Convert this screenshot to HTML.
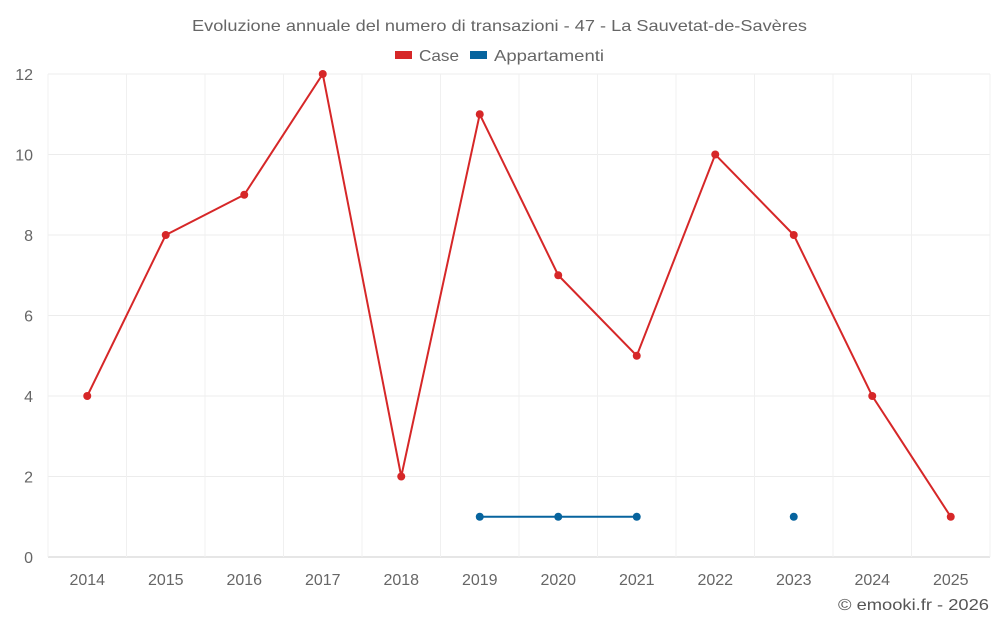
<!DOCTYPE html>
<html><head><meta charset="utf-8"><style>
html,body{margin:0;padding:0;background:#fff;}
svg{display:block;font-family:"Liberation Sans",sans-serif;}
</style></head><body>
<svg id="chart" width="1000" height="625" viewBox="0 0 1000 625">
<text x="192" y="31" textLength="615" lengthAdjust="spacingAndGlyphs" font-size="16" fill="#666">Evoluzione annuale del numero di transazioni - 47 - La Sauvetat-de-Savères</text>
<g>
<g><rect x="395" y="51" width="17" height="8" fill="#d62728"/><text x="419" y="61" textLength="40" lengthAdjust="spacingAndGlyphs" font-size="16" fill="#666">Case</text></g>
<g><rect x="470" y="51" width="17" height="8" fill="#07649e"/><text x="494" y="61" textLength="110" lengthAdjust="spacingAndGlyphs" font-size="16" fill="#666">Appartamenti</text></g>
</g>
<g id="grid"></g>
<g id="axes"></g>
<g id="series"></g>
<text x="838" y="610" textLength="151" lengthAdjust="spacingAndGlyphs" font-size="16" fill="#555">© emooki.fr - 2026</text>
</svg>
<script>
const categories=["2014","2015","2016","2017","2018","2019","2020","2021","2022","2023","2024","2025"];
const caseValues=[4,8,9,12,2,11,7,5,10,8,4,1];
const appartamentiValues=[null,null,null,null,null,1,1,1,null,1,null,null];
const yTicks=[0,2,4,6,8,10,12];
const NS="http://www.w3.org/2000/svg";
const L=48,R=990,T=74,B=557,yMax=12;
const bw=(R-L)/categories.length;
const x=i=>L+bw*(i+0.5);
const y=v=>B-(v/yMax)*(B-T);
function mk(tag,attrs,parent){const e=document.createElementNS(NS,tag);for(const k in attrs)e.setAttribute(k,attrs[k]);parent.appendChild(e);return e;}
const grid=document.getElementById('grid'),axes=document.getElementById('axes'),series=document.getElementById('series');
yTicks.forEach(t=>{
 const g=mk('line',{x1:L,x2:R,y1:y(t),y2:y(t),stroke:t===0?'#ccc':'#ececec','stroke-width':1},grid);
 
 
 const lb=mk('text',{x:33,y:y(t)+6,'text-anchor':'end','font-size':16,fill:'#666'},axes);
 lb.textContent=t;
 
 
});
for(let i=0;i<=categories.length;i++){
 const v=mk('line',{x1:L+bw*i,x2:L+bw*i,y1:T,y2:B,stroke:'#f0f0f0','stroke-width':1},grid);
 
 
}
categories.forEach((c,i)=>{
 const lb=mk('text',{x:x(i),y:585,'text-anchor':'middle','font-size':16,fill:'#666'},axes);
 lb.textContent=c;
 
 
});
function drawSeries(vals,color,name){
 let segs=[],cur=[];
 vals.forEach((v,i)=>{if(v==null){if(cur.length)segs.push(cur);cur=[];}else cur.push([x(i),y(v)]);});
 if(cur.length)segs.push(cur);
 segs.forEach(s=>{if(s.length>1){
  const p=mk('polyline',{points:s.map(q=>q.join(',')).join(' '),fill:'none',stroke:color,'stroke-width':2},series);
  
  
 }});
 vals.forEach((v,i)=>{if(v==null)return;
  const c=mk('circle',{cx:x(i),cy:y(v),r:4,fill:color},series);
  
  
 });
}
drawSeries(caseValues,'#d62728','case');
drawSeries(appartamentiValues,'#07649e','appartamenti');
</script>
</body></html>
